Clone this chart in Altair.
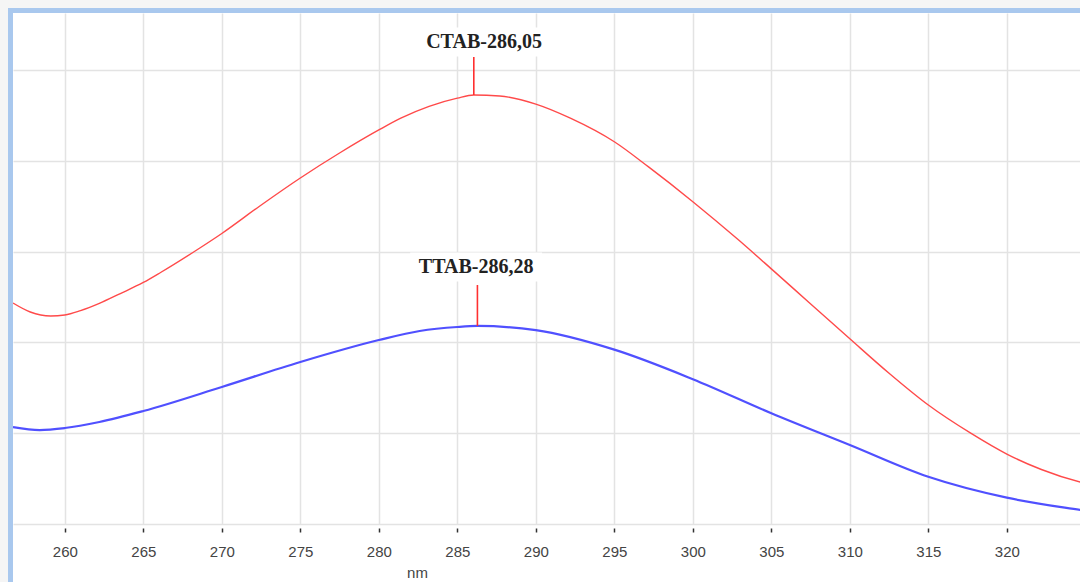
import altair as alt
import pandas as pd

# CTAB (red) spectrum
ctab_nm = [256.7, 257.8, 259.1, 260, 261, 262.2, 263.5, 265, 266.1, 268.6, 270, 272.4, 275, 277.5,
           280, 281.4, 283.2, 285, 286.05, 287.7, 290, 292.2, 295, 297.2, 300, 302.9, 305, 307.4,
           310, 312.5, 315, 317.7, 320, 322.2, 324.7, 326]
ctab_abs = [0.2434, 0.2335, 0.2291, 0.2302, 0.2350, 0.2430, 0.2535, 0.2660, 0.2770, 0.3040, 0.3200,
            0.3500, 0.3811, 0.4086, 0.4340, 0.4470, 0.4600, 0.4690, 0.4725, 0.4714, 0.4625, 0.4470,
            0.4210, 0.3930, 0.3550, 0.3130, 0.2810, 0.2440, 0.2040, 0.1660, 0.1310, 0.1000, 0.0770,
            0.0600, 0.0460, 0.0410]

# TTAB (blue) spectrum
ttab_nm = [256.7, 258.4, 260, 262.2, 265, 270, 275, 280, 282.6, 285, 286.28, 290, 295,
           300, 305, 310, 315, 320, 324.7, 326]
ttab_abs = [0.1068, 0.1035, 0.1057, 0.1123, 0.1244, 0.1509, 0.1784, 0.2026, 0.2126, 0.2170, 0.2181,
            0.2135, 0.1920, 0.1595, 0.1220, 0.0870, 0.0520, 0.0290, 0.0154, 0.0120]

# peak annotations
peak_names = ["CTAB-286,05", "TTAB-286,28"]
peak_nm = [286.05, 286.28]
peak_abs = [0.4725, 0.2181]
marker_top = [0.5143, 0.2632]
label_nm = [286.7, 286.2]
label_abs = [0.5308, 0.2830]

x_ticks = [260, 265, 270, 275, 280, 285, 290, 295, 300, 305, 310, 315, 320, 325]
y_ticks = [0.0, 0.1, 0.2, 0.3, 0.4, 0.5]

W, H = 1067, 511
xs = alt.Scale(domain=[256.7, 324.66], nice=False, zero=False)
ys = alt.Scale(domain=[0, 0.5628], nice=False, zero=False)

spec = pd.concat([
    pd.DataFrame({"nm": ctab_nm, "abs": ctab_abs, "s": "CTAB"}),
    pd.DataFrame({"nm": ttab_nm, "abs": ttab_abs, "s": "TTAB"}),
])
peaks = pd.DataFrame({"name": peak_names, "nm": peak_nm, "abs": peak_abs, "top": marker_top,
                      "lx": label_nm, "ly": label_abs})
peaks["bx1"] = peaks["lx"] - 4.2
peaks["bx2"] = peaks["lx"] + 4.2
peaks["by1"] = peaks["ly"] - 0.016
peaks["by2"] = peaks["ly"] + 0.016

xaxis = alt.Axis(values=x_ticks, grid=True, gridColor="#e3e3e3", gridWidth=1.5, domain=False,
                 offset=4, tickSize=4, tickColor="#333", tickWidth=1.5,
                 labelFont="Liberation Sans", labelFontSize=15, labelColor="#444",
                 labelBaseline="middle", labelPadding=19, labelFlush=False,
                 title="nm", titleFont="Liberation Sans", titleFontSize=15, titleColor="#444",
                 titleFontWeight="normal", titleX=404, titleY=49, titleBaseline="alphabetic")
yaxis = alt.Axis(values=y_ticks, grid=True, gridColor="#e3e3e3", gridWidth=1.5, domain=False,
                 ticks=False, labels=False, title=None)

lines = alt.Chart(spec).mark_line(interpolate="monotone", clip=True).encode(
    x=alt.X("nm:Q", scale=xs, axis=xaxis),
    y=alt.Y("abs:Q", scale=ys, axis=yaxis),
    color=alt.Color("s:N", scale=alt.Scale(domain=["CTAB", "TTAB"], range=["#ff4a4a", "#5050ff"]),
                    legend=None),
    strokeWidth=alt.StrokeWidth("s:N", scale=alt.Scale(domain=["CTAB", "TTAB"], range=[1.4, 2.2]),
                                legend=None),
)

boxes = alt.Chart(peaks).mark_rect(color="white").encode(
    x="bx1:Q", x2="bx2:Q", y="by1:Q", y2="by2:Q")

markers = alt.Chart(peaks).mark_rule(color="#ff3030", strokeWidth=1.6).encode(
    x="nm:Q", y="abs:Q", y2="top:Q")

labels = alt.Chart(peaks).mark_text(font="Liberation Serif", fontSize=20, fontWeight="bold",
                                    color="#222", baseline="middle", align="center").encode(
    x="lx:Q", y="ly:Q", text="name:N")

one = pd.DataFrame({"k": [0]})
shadow_l = alt.Chart(one).mark_rule(color="#f5f5f5", strokeWidth=8).encode(
    x=alt.value(-9), y=alt.value(-13), y2=alt.value(H + 80))
shadow_t = alt.Chart(one).mark_rule(color="#f5f5f5", strokeWidth=8).encode(
    y=alt.value(-9), x=alt.value(-13), x2=alt.value(W + 40))
frame_l = alt.Chart(one).mark_rule(color="#a9c8ee", strokeWidth=5).encode(
    x=alt.value(-2.5), y=alt.value(-5), y2=alt.value(H + 80))
frame_t = alt.Chart(one).mark_rule(color="#a9c8ee", strokeWidth=5).encode(
    y=alt.value(-2.5), x=alt.value(-5), x2=alt.value(W + 40))

chart = alt.layer(lines, boxes, markers, labels, shadow_l, shadow_t, frame_l, frame_t).properties(
    width=W, height=H,
    autosize=alt.AutoSizeParams(type="none"),
    padding={"left": 13, "top": 13, "right": 0, "bottom": 58},
    background="white",
).configure_view(stroke=None)

chart.save("out.html", embed_options={"renderer": "svg", "actions": False})
